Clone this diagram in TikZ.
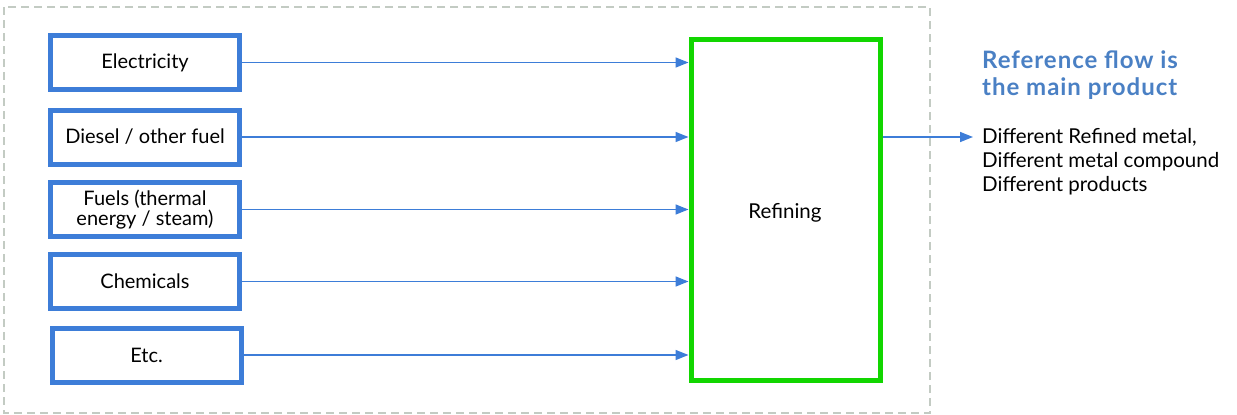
\documentclass[tikz,border=0pt]{standalone}
\usepackage{fontspec}
\setmainfont{Lato}
\usetikzlibrary{arrows.meta}
\definecolor{inblue}{HTML}{3D7DD8}
\definecolor{titleblue}{HTML}{4A80C4}
\definecolor{procgreen}{HTML}{12D600}
\definecolor{framegray}{HTML}{C3CBC3}
\tikzset{
  inputbox/.style={draw=inblue, line width=5pt, fill=white, minimum width=189pt,
    minimum height=54pt, inner sep=0pt, align=center, font=\fontsize{20}{18}\selectfont},
  procbox/.style={draw=procgreen, line width=5pt, fill=white, minimum width=189pt,
    minimum height=341pt, inner sep=0pt},
  flow/.style={draw=inblue, line width=1.5pt, -{Triangle[length=13pt,width=10pt]}},
}
\begin{document}
\begin{tikzpicture}[x=1pt,y=-1pt]
\useasboundingbox (0,0) rectangle (1237,415);
% system boundary
\draw[framegray, line width=2pt, dash pattern=on 8pt off 5pt] (4,7) rectangle (930,413);
% inputs
\node[inputbox] (elec) at (145,62.5) {Electricity};
\node[inputbox] (diesel) at (145,137) {Diesel / other fuel};
\node[inputbox] (fuels) at (145,209.5) {Fuels (thermal\\energy / steam)};
\node[inputbox] (chem) at (145,281.5) {Chemicals};
\node[inputbox] (etc) at (146.5,355) {Etc.};
% process
\node[procbox] (ref) at (785.5,210) {};
\node[font=\fontsize{20.5}{20}\selectfont] (reflabel) at (785,213) {Refining};
% input flows
\foreach \n in {elec,diesel,fuels,chem,etc}
  \draw[flow] (\n.east) -- (\n.east -| ref.west);
% output
\coordinate (outend) at (973,137);
\draw[flow] (ref.east |- outend) -- (outend);
\node[anchor=base west, align=left, inner sep=0pt, text=titleblue,
  font=\fontsize{24}{27}\selectfont\bfseries\addfontfeatures{LetterSpace=4}] (title) at (982,95)
  {Reference flow is\\the main product};
\node[anchor=base west, align=left, inner sep=0pt, font=\fontsize{20.5}{24}\selectfont] (products) at (982,191)
  {Different Refined metal,\\Different metal compound\\Different products};
\end{tikzpicture}
\end{document}
